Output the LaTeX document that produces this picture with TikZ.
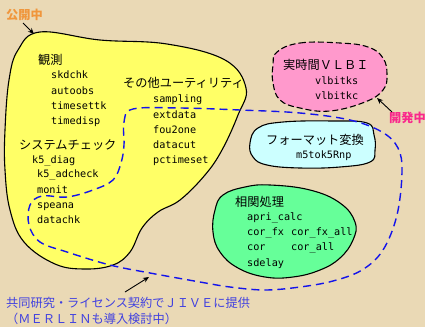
\documentclass[tikz,border=0pt]{standalone}
\usepackage{fontspec}
\setmainfont{DejaVu Sans}
\newfontfamily\jpfont{Noto Sans CJK JP}
\newfontfamily\prog{DejaVu Sans Mono}
\usetikzlibrary{arrows.meta}
\definecolor{bgtan}{RGB}{234,217,181}
\definecolor{yel}{RGB}{255,255,102}
\definecolor{pinkf}{RGB}{255,153,204}
\definecolor{cyanf}{RGB}{204,255,255}
\definecolor{greenf}{RGB}{102,255,153}
\definecolor{dblue}{RGB}{20,20,235}
\definecolor{txtblue}{RGB}{64,64,224}
\definecolor{orangel}{RGB}{240,150,60}
\definecolor{pinkl}{RGB}{250,40,140}
\tikzset{
  blob/.style={draw=black, line width=1.1pt},
  jp/.style={font=\jpfont\fontsize{12.2}{14}\selectfont, anchor=base west, inner sep=0pt},
  pg/.style={font=\prog\fontsize{10.2}{12}\selectfont, anchor=base west, inner sep=0pt},
  lbl/.style={font=\jpfont\fontsize{12.2}{14}\selectfont, inner sep=0pt},
  pointer/.style={-{Stealth[length=6pt,width=5pt]}, line width=0.9pt, black},
}
\begin{document}
\begin{tikzpicture}[x=1pt,y=-1pt]
\fill[bgtan] (0,0) rectangle (425,327);
\useasboundingbox (0,0) rectangle (425,327);
% yellow region
\draw[blob, fill=yel] plot[smooth cycle, tension=0.65] coordinates {(40,32) (100,40) (167,44) (225,60) (246,88) (238,115) (222,150) (205,175) (180,200) (158,212) (142,228) (130,252) (113,265) (85,269) (55,264) (24,242) (10,210) (5,170) (5,130) (9,80) (18,50)};
% pink region
\draw[blob, dash pattern=on 6pt off 3pt, fill=pinkf] plot[smooth cycle, tension=0.7] coordinates {(277,52) (300,43) (340,43) (368,47) (383,58) (387,75) (383,90) (365,102) (330,111) (300,108) (280,100) (273,83) (273,65)};
% cyan region
\draw[blob, fill=cyanf] plot[smooth cycle, tension=0.7] coordinates {(258,128) (283,122) (333,121) (367,123) (374,135) (375,150) (370,162) (340,167) (300,168) (267,165) (253,157) (250,143)};
% green region
\draw[blob, fill=greenf] plot[smooth cycle, tension=0.7] coordinates {(223,195) (245,187) (270,185) (310,190) (340,203) (355,222) (353,240) (340,258) (320,270) (293,277) (265,277) (238,268) (220,252) (213,232) (215,210)};
% blue dashed region
\draw[dblue, line width=1.4pt, dash pattern=on 8pt off 5pt] plot[smooth cycle, tension=0.6] coordinates {(124,145) (124,122) (133,109) (180,108) (240,110) (300,113) (350,120) (382,132) (398,148) (402,172) (397,215) (383,250) (362,270) (333,281) (300,287) (265,290) (230,287) (200,282) (150,273) (110,265) (67,252) (40,242) (29,225) (30,205) (42,196) (67,197) (93,190) (113,180) (121,163)};

% yellow texts
\node[jp] (kansoku) at (38,64.5) {観測};
\node[pg] (skdchk) at (51,78.5) {skdchk};
\node[pg] (autoobs) at (51,94.5) {autoobs};
\node[pg] (timesettk) at (51,109.5) {timesettk};
\node[pg] (timedisp) at (51,124.5) {timedisp};
\node[jp] (syscheck) at (19,149.5) {システムチェック};
\node[pg] (k5diag) at (32,163.5) {k5\_diag};
\node[pg] (k5adcheck) at (37,177.5) {k5\_adcheck};
\node[pg] (monit) at (37,193.5) {monit};
\node[pg] (speana) at (37,208.5) {speana};
\node[pg] (datachk) at (37,223.5) {datachk};
\node[jp] (sonota) at (123,87.5) {その他ユーティリティ};
\node[pg] (sampling) at (153,102.5) {sampling};
\node[pg] (extdata) at (153,118.5) {extdata};
\node[pg] (fou2one) at (153,133.5) {fou2one};
\node[pg] (datacut) at (153,148.5) {datacut};
\node[pg] (pctimeset) at (153,163.5) {pctimeset};
% pink texts
\node[jp] (jitsuji) at (283,69.5) {実時間ＶＬＢＩ};
\node[pg] (vlbitks) at (315,84.5) {vlbitks};
\node[pg] (vlbitkc) at (315,99.5) {vlbitkc};
% cyan texts
\node[jp] (format) at (266,144.5) {フォーマット変換};
\node[pg] (m5tok5) at (296,158.5) {m5tok5Rnp};
% green texts
\node[jp] (soukan) at (235,206.5) {相関処理};
\node[pg] (apri) at (247,220.5) {apri\_calc};
\node[pg] (corfx) at (247,235.5) {cor\_fx};
\node[pg] (corfxall) at (291,235.5) {cor\_fx\_all};
\node[pg] (cor) at (247,250.5) {cor};
\node[pg] (corall) at (291,250.5) {cor\_all};
\node[pg] (sdelay) at (247,266.5) {sdelay};

% labels and pointers
\node[lbl, text=orangel, anchor=west, font=\jpfont\bfseries\fontsize{12.2}{14}\selectfont] (kokai) at (6,15) {公開中};
\coordinate (kokaitip) at (34,34);
\draw[pointer] (23,23) -- (kokaitip);
\node[lbl, text=pinkl, anchor=west, font=\jpfont\bfseries\fontsize{12.2}{14}\selectfont] (kaihatsu) at (389,118) {開発中};
\coordinate (kaihatsutip) at (377,98);
\draw[pointer] (392,112) -- (kaihatsutip);
\node[lbl, text=txtblue, anchor=base west] (jive) at (6,307.5) {共同研究・ライセンス契約でＪＩＶＥに提供};
\node[lbl, text=txtblue, anchor=base west] (merlin) at (6,323.5) {（ＭＥＲＬＩＮも導入検討中）};
\coordinate (jivetip) at (149,277);
\draw[pointer] (125,292) -- (jivetip);
\end{tikzpicture}
\end{document}
